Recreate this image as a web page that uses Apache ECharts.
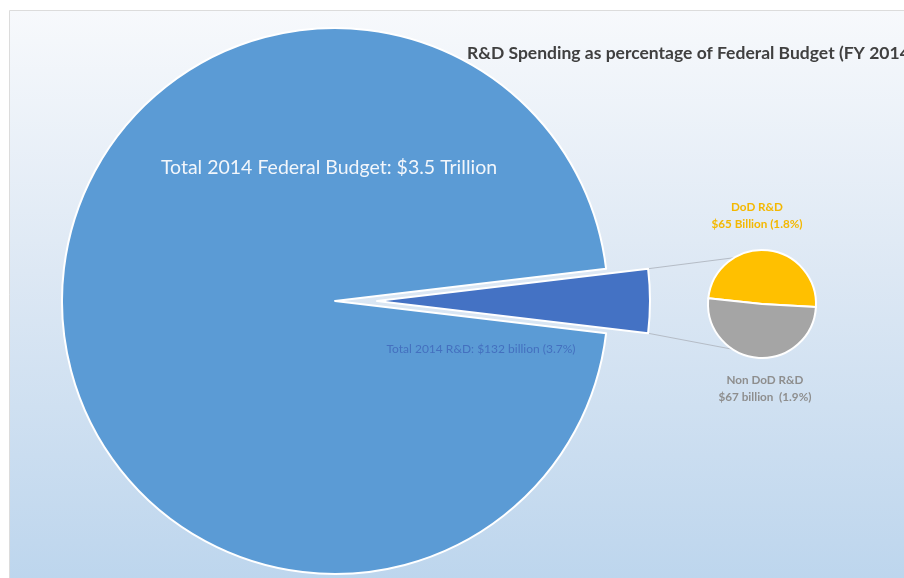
<!DOCTYPE html>
<html>
<head>
<meta charset="utf-8">
<script src="https://cdn.jsdelivr.net/npm/echarts@6/dist/echarts.min.js"></script>
<style>
  html, body { margin: 0; padding: 0; background: #ffffff; }
  #chart { width: 904px; height: 578px; }
</style>
</head>
<body>
<div id="chart"></div>
<script>
// Federal budget FY 2014, billions of dollars
const budgetCategories = ['Total 2014 R&D', 'Other Federal Spending'];
const budgetValues = [132, 3368];
const budgetLabels = ['Total 2014 R&D: $132 billion (3.7%)', 'Total 2014 Federal Budget: $3.5 Trillion'];

// Breakdown of the R&D share
const rdCategories = ['DoD R&D', 'Non DoD R&D'];
const rdValues = [65, 67];
const rdLabels = [['DoD R&D', '$65 Billion (1.8%)'], ['Non DoD R&D', '$67 billion  (1.9%)']];

const titleText = 'R&D Spending as percentage of Federal Budget (FY 2014)';

// Layout
const FONT = 'Lato, "Open Sans", sans-serif';
const BIG_C = [335, 301], BIG_R = 273, EXPLODE = 42;
const SMALL_C = [762, 304], SMALL_R = 54;

const total = budgetValues.reduce((a, b) => a + b, 0);
const halfAngle = budgetValues[0] / total * 180;           // degrees
const rdStart = 174;                                         // start angle for breakdown pie
const toRad = d => d * Math.PI / 180;

// Corners of the exploded R&D slice
const tipX = BIG_C[0] + EXPLODE;
const cornerTop = [tipX + BIG_R * Math.cos(toRad(halfAngle)), BIG_C[1] - BIG_R * Math.sin(toRad(halfAngle))];
const cornerBot = [tipX + BIG_R * Math.cos(toRad(halfAngle)), BIG_C[1] + BIG_R * Math.sin(toRad(halfAngle))];
// Points on the breakdown pie where the connectors land
const pOn = a => [SMALL_C[0] + SMALL_R * Math.cos(toRad(a)), SMALL_C[1] - SMALL_R * Math.sin(toRad(a))];
const landTop = pOn(121), landBot = pOn(-123);

const chart = echarts.init(document.getElementById('chart'), null, { renderer: 'canvas' });

chart.setOption({
  animation: false,
  backgroundColor: '#ffffff',
  graphic: [
    {
      type: 'rect', z: -10, silent: true,
      shape: { x: 9.5, y: 10.5, width: 910, height: 580 },
      style: {
        fill: new echarts.graphic.LinearGradient(0, 0, 0, 1, [
          { offset: 0, color: '#f7f9fc' },
          { offset: 0.45, color: '#dde8f4' },
          { offset: 1, color: '#bcd5ed' }
        ]),
        stroke: '#dcdcdc', lineWidth: 1
      }
    },
    {
      type: 'line', z: 1, silent: true,
      shape: { x1: cornerTop[0], y1: cornerTop[1], x2: landTop[0], y2: landTop[1] },
      style: { stroke: '#b5bcc6', lineWidth: 1 }
    },
    {
      type: 'line', z: 1, silent: true,
      shape: { x1: cornerBot[0], y1: cornerBot[1], x2: landBot[0], y2: landBot[1] },
      style: { stroke: '#b5bcc6', lineWidth: 1 }
    },
    {
      type: 'text', z: 100, silent: true,
      style: { text: titleText, x: 467, y: 53, font: 'bold 17.5px ' + FONT, fill: '#404040', textVerticalAlign: 'middle' }
    },
    {
      type: 'text', z: 100, silent: true,
      style: { text: budgetLabels[1], x: 329, y: 168, font: '19.5px ' + FONT, fill: '#f2f6fb', textAlign: 'center', textVerticalAlign: 'middle' }
    },
    {
      type: 'text', z: 100, silent: true,
      style: { text: budgetLabels[0], x: 481, y: 349, font: '12px ' + FONT, fill: '#4470bf', textAlign: 'center', textVerticalAlign: 'middle' }
    },
    {
      type: 'text', z: 100, silent: true,
      style: { text: rdLabels[0].join('\n'), x: 757, y: 216, font: 'bold 11.7px ' + FONT, lineHeight: 17, fill: '#f4b800', textAlign: 'center', textVerticalAlign: 'middle' }
    },
    {
      type: 'text', z: 100, silent: true,
      style: { text: rdLabels[1].join('\n'), x: 765, y: 389, font: 'bold 11.7px ' + FONT, lineHeight: 17, fill: '#8e8e8e', textAlign: 'center', textVerticalAlign: 'middle' }
    }
  ],
  series: [
    {
      type: 'pie',
      silent: true,
      center: BIG_C,
      radius: [0, BIG_R],
      startAngle: halfAngle,
      clockwise: true,
      selectedMode: 'single',
      selectedOffset: EXPLODE,
      label: { show: false },
      labelLine: { show: false },
      emphasis: { disabled: true },
      itemStyle: { borderColor: '#ffffff', borderWidth: 2 },
      data: budgetCategories.map((name, i) => ({
        name,
        value: budgetValues[i],
        selected: i === 0,
        itemStyle: { color: i === 0 ? '#4472c4' : '#5b9bd5' }
      }))
    },
    {
      type: 'pie',
      silent: true,
      center: SMALL_C,
      radius: [0, SMALL_R],
      startAngle: rdStart,
      clockwise: true,
      label: { show: false },
      labelLine: { show: false },
      emphasis: { disabled: true },
      itemStyle: { borderColor: '#ffffff', borderWidth: 2 },
      data: rdCategories.map((name, i) => ({
        name,
        value: rdValues[i],
        itemStyle: { color: i === 0 ? '#ffc000' : '#a5a5a5' }
      }))
    }
  ]
});
</script>
</body>
</html>
